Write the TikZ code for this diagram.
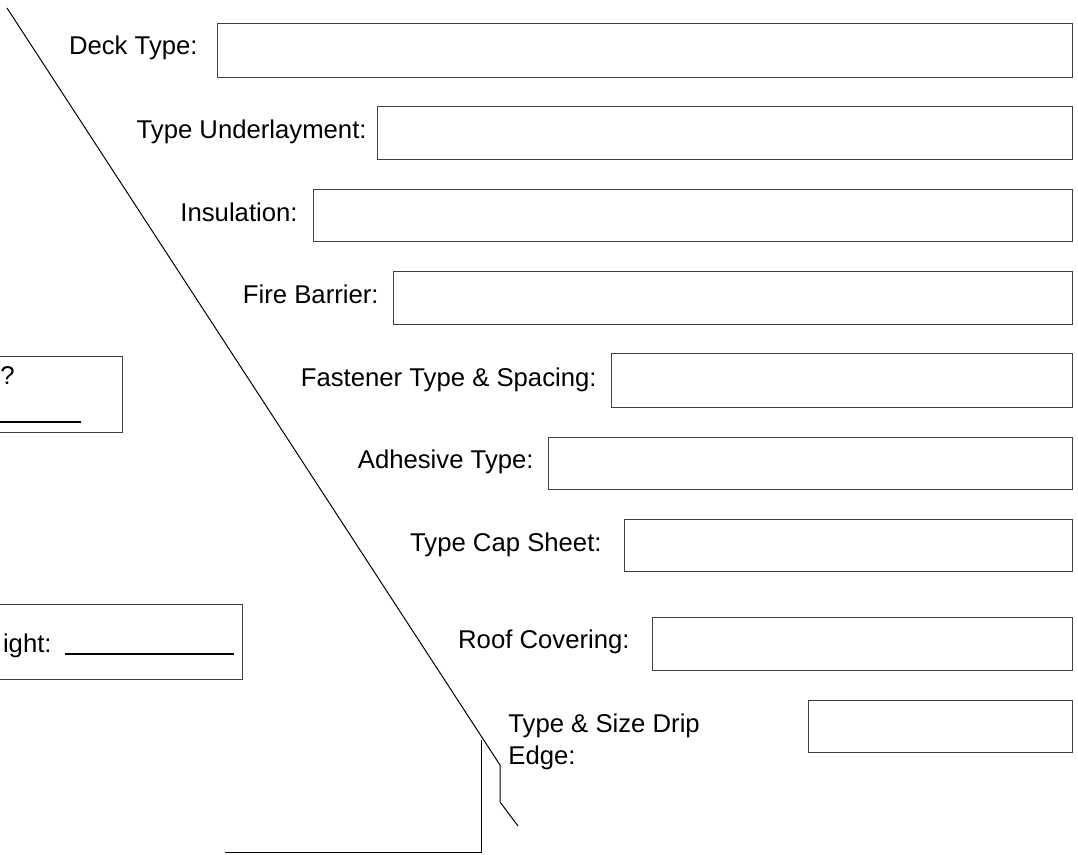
\documentclass[tikz,border=0pt]{standalone}
\usepackage{fontspec}
\setmainfont{Liberation Sans}
\usetikzlibrary{positioning}
\tikzset{
  field/.style={draw=black!75, line width=0.5pt, inner sep=0pt, anchor=north west},
  caption/.style={inner sep=0pt, anchor=base east, font=\fontsize{12.85}{16}\selectfont},
  roofline/.style={draw=black, line width=0.5pt},
  blank/.style={draw=black, line width=0.6pt},
}
\begin{document}
\begin{tikzpicture}[x=0.5pt, y=-0.5pt]
\useasboundingbox (0,0) rectangle (1078,855);
\clip (0,0) rectangle (1078,855);
% roof edge and drip
\coordinate (ridge) at (7,8);
\coordinate (eave) at (500,765);
\coordinate (drip) at (500,802);
\coordinate (tip) at (518,826);
\draw[roofline] (ridge) -- (eave) -- (drip) -- (tip);
% wall
\coordinate (wallTop) at (481,740);
\coordinate (wallFoot) at (481,853);
\coordinate (floorEnd) at (225,853);
\draw[roofline] (wallTop) -- (wallFoot) -- (floorEnd);
% fields on the right
\node [field, minimum width=427.5pt, minimum height=27pt] (deck) at (217,23) {};
\node [caption] (deckLbl) at (198,55) {Deck Type:};
\node [field, minimum width=347.5pt, minimum height=26.5pt] (underlay) at (377,106) {};
\node [caption] (underlayLbl) at (367,139) {Type Underlayment:};
\node [field, minimum width=379.5pt, minimum height=26pt] (insul) at (313,189) {};
\node [caption] (insulLbl) at (298,222) {Insulation:};
\node [field, minimum width=339.5pt, minimum height=26.5pt] (fire) at (393,271) {};
\node [caption] (fireLbl) at (379,304) {Fire Barrier:};
\node [field, minimum width=230.5pt, minimum height=27pt] (fastener) at (611,353) {};
\node [caption] (fastenerLbl) at (597,387) {Fastener Type \& Spacing:};
\node [field, minimum width=262pt, minimum height=26pt] (adhesive) at (548,437) {};
\node [caption] (adhesiveLbl) at (534,469) {Adhesive Type:};
\node [field, minimum width=224pt, minimum height=26pt] (cap) at (624,519) {};
\node [caption] (capLbl) at (602,552) {Type Cap Sheet:};
\node [field, minimum width=210pt, minimum height=26.5pt] (covering) at (652,617) {};
\node [caption] (coveringLbl) at (630,649) {Roof Covering:};
\node [field, minimum width=132pt, minimum height=26pt] (dripBox) at (808,700) {};
\node [caption, anchor=base west] (dripLbl) at (508,733) {Type \& Size Drip};
\node [caption, anchor=base west] (dripLblB) at (508,765) {Edge:};
% fields on the left, cut by the page edge
\node [field, minimum width=66pt, minimum height=38pt] (slope) at (-10,356) {};
\node [caption, anchor=base west] (slopeLbl) at (0,385) {?};
\draw[blank] (0,422) -- (81,422);
\node [field, minimum width=126pt, minimum height=37.5pt] (height) at (-10,604) {};
\node [caption] (heightLbl) at (52,653) {ight:};
\draw[blank] (65,654) -- (234,654);
\end{tikzpicture}
\end{document}
